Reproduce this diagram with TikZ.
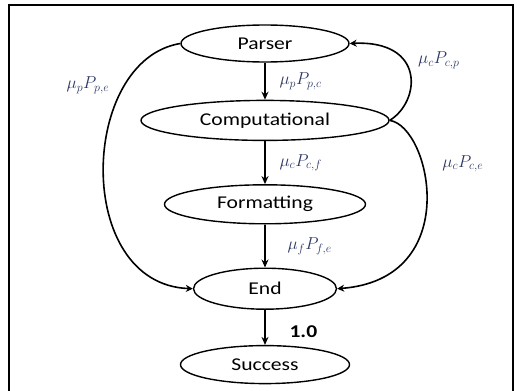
\documentclass[tikz,border=0pt]{standalone}
\usepackage{fontspec}
\setmainfont[FakeStretch=1.2]{Carlito}
\usetikzlibrary{shapes.geometric, arrows.meta, positioning}
\definecolor{ratecol}{RGB}{45,55,100}

\begin{document}
\begin{tikzpicture}[
        x=1pt, y=-1pt,
        node distance=40pt,
        state/.style={ellipse, draw, line width=1.4pt, inner sep=0pt, font=\fontsize{18}{20}\selectfont},
        rate/.style={font=\fontsize{18}{20}\selectfont, text=ratecol},
        flow/.style={-{Stealth[length=8pt, width=7pt]}, line width=2.4pt},
        loop/.style={-{Stealth[length=7pt, width=7pt]}, line width=1.6pt}
    ]
        \useasboundingbox (0,0) rectangle (520,391);
        % Frame
        \draw[line width=1.6pt] (9,400) -- (9,5) -- (513,5) -- (513,400);

        % States
        \node[state, minimum width=168pt, minimum height=37pt] (parser) at (265,43.5) {Parser};
        \node[state, minimum width=248pt, minimum height=40pt, below=37pt of parser] (comp) {Computational};
        \node[state, minimum width=201pt, minimum height=39pt, below=43pt of comp] (format) {Formatting};
        \node[state, minimum width=143pt, minimum height=41pt, below=43pt of format] (end) {End};
        \node[state, minimum width=169pt, minimum height=38pt, below=35pt of end] (success) {Success};

        % Main flow
        \draw[flow] (parser) -- node[rate, right=10pt] {$\mu_p P_{p,c}$} (comp);
        \draw[flow] (comp) -- node[rate, right=10pt] {$\mu_c P_{c,f}$} (format);
        \draw[flow] (format) -- node[rate, right=18pt] {$\mu_f P_{f,e}$} (end);
        \draw[flow] (end) -- node[pos=0.62, right=20pt, font=\bfseries\fontsize{18}{20}\selectfont] {1.0} (success);

        % Side transitions
        \draw[loop] (parser.west) .. controls +(-101,16.5) and +(-120,-4.5) .. node[pos=0.24, rate, left=11pt] {$\mu_p P_{p,e}$} (end.west);
        \draw[loop] (comp.east) .. controls +(31,-19) and +(76,-3.5) .. node[pos=0.55, rate, right=6pt, yshift=8pt] {$\mu_c P_{c,p}$} (parser.east);
        \draw[loop] (comp.east) .. controls +(41,6) and +(127,-9.5) .. node[pos=0.33, rate, right=16pt] {$\mu_c P_{c,e}$} (end.east);
    \end{tikzpicture}
\end{document}
